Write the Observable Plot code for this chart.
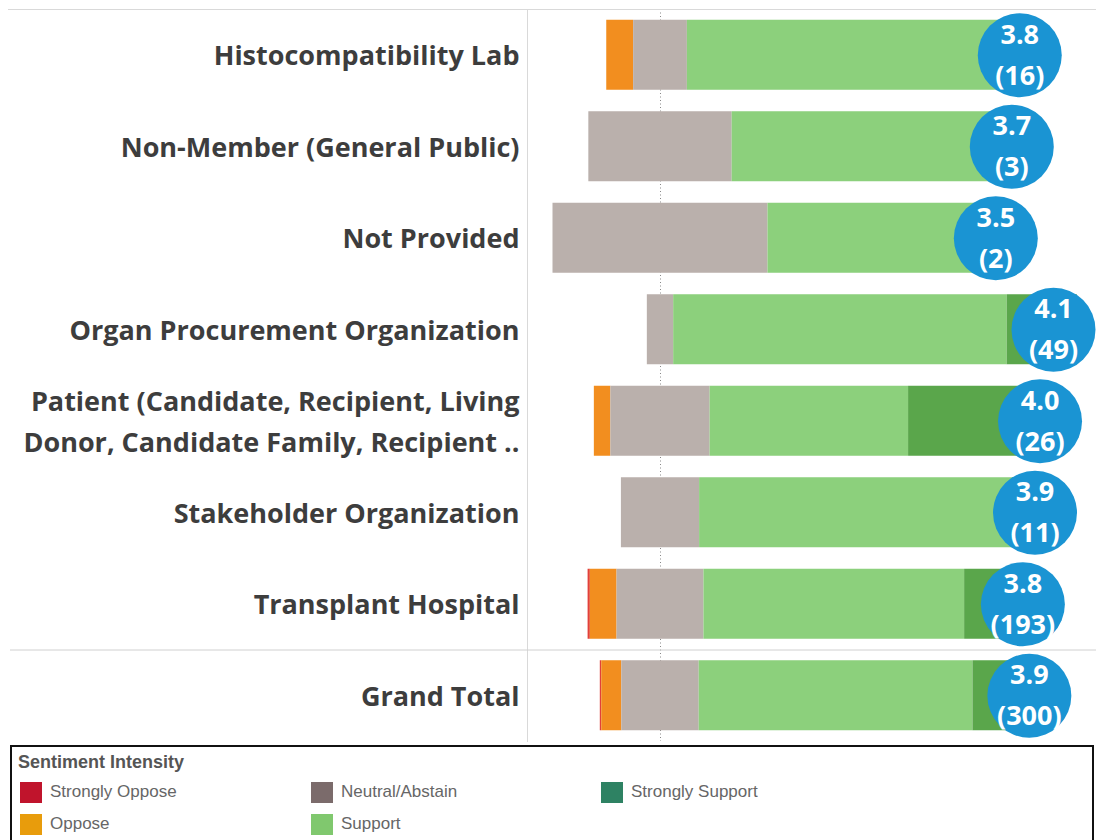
<!DOCTYPE html>
<html><head><meta charset="utf-8">
<script src="https://cdn.jsdelivr.net/npm/d3@7"></script>
<script src="https://cdn.jsdelivr.net/npm/@observablehq/plot@0.6"></script>
<style>
body{margin:0;background:#fff;width:1096px;height:840px;overflow:hidden;position:relative;}
#chart svg{display:block;}
#legend{position:absolute;left:10px;top:745px;width:1084px;height:110px;border:2px solid #111;box-sizing:border-box;font-family:"Liberation Sans",Arial,sans-serif;background:#fff;}
#legend .title{position:absolute;left:6px;top:5px;font-size:18px;font-weight:bold;color:#555;}
#legend .item{position:absolute;height:22px;display:flex;align-items:center;font-size:17px;color:#666;white-space:nowrap;}
#legend .sw{width:22px;height:21px;margin-right:8px;display:inline-block;}
</style>
</head><body>
<div id="chart"></div>
<div id="legend"></div>
<script>
const categories = ["Histocompatibility Lab","Non-Member (General Public)","Not Provided","Organ Procurement Organization","Patient (Candidate, Recipient, Living Donor, Candidate Family, Recipient ..","Stakeholder Organization","Transplant Hospital","Grand Total"];
const rowLabels = ["Histocompatibility Lab","Non-Member (General Public)","Not Provided","Organ Procurement Organization","Patient (Candidate, Recipient, Living\nDonor, Candidate Family, Recipient ..","Stakeholder Organization","Transplant Hospital","Grand Total"];
const stronglyOppose  = [0, 0, 0, 0, 0, 0, 1, 1];
const oppose          = [1, 0, 0, 0, 1, 0, 12, 14];
const neutral         = [2, 1, 1, 3, 6, 2, 39, 54];
const support         = [13, 2, 1, 38, 12, 8, 117, 191];
const stronglySupport = [0, 0, 0, 8, 7, 1, 24, 40];
const scoreLabels = ["3.8","3.7","3.5","4.1","4.0","3.9","3.8","3.9"];
const levels = ["Strongly Oppose","Oppose","Neutral/Abstain","Support","Strongly Support"];
const barColors = ["#e2403a","#f28e1f","#bab0ac","#8cd07c","#5aa64b"];
const legendColors = ["#c0142c","#e89c0c","#7b6b6b","#80c86e","#2e8263"];

const W = 1096, H = 745, ML = 527, MT = 9, MB = 4;
const CENTER = 660, PX_PER_PCT = 4.3, SCORE_UNIT = 22.28;
const xDomain = [-(CENTER - ML) / PX_PER_PCT, (W - CENTER) / PX_PER_PCT];

const counts = [stronglyOppose, oppose, neutral, support, stronglySupport];
const segments = [], summary = [];
categories.forEach((c, i) => {
  const n = counts.reduce((s, a) => s + a[i], 0);
  let x = -(stronglyOppose[i] + oppose[i] + neutral[i] / 2) / n * 100;
  counts.forEach((arr, k) => {
    const w = arr[i] / n * 100;
    if (w > 0) segments.push({category: c, level: levels[k], x1: x, x2: x + w});
    x += w;
  });
  const mean = counts.reduce((s, a, k) => s + a[i] * (k + 1), 0) / n;
  summary.push({category: c, n, mean, label: scoreLabels[i]});
});

const chart = Plot.plot({
  width: W, height: H, marginLeft: ML, marginRight: 0, marginTop: MT, marginBottom: MB,
  x: {domain: xDomain, axis: null},
  y: {domain: categories, paddingInner: 0.235, paddingOuter: 0.1175, round: false, axis: null},
  color: {domain: levels, range: barColors},
  style: {fontFamily: "'Open Sans', sans-serif", background: "white", overflow: "visible"},
  marks: [
    Plot.ruleX([0], {stroke: "#888", strokeDasharray: "1,2.5", strokeWidth: 1}),
    Plot.barX(segments, {y: "category", x1: "x1", x2: "x2", fill: "level"}),
    Plot.dot(summary, {y: "category", x: d => d.mean * SCORE_UNIT, r: 42, fill: "#1a94d3"}),
    Plot.text(summary, {y: "category", x: d => d.mean * SCORE_UNIT, dy: -4, text: d => `${d.label}\n(${d.n})`, fill: "white", fontSize: 27, fontWeight: "bold", lineHeight: 1.52}),
    Plot.text(categories, {y: d => d, frameAnchor: "left", dx: -8, dy: -3, textAnchor: "end", text: (d, i) => rowLabels[i], fontSize: 27, fontWeight: "bold", fill: "#3d3d3d", lineHeight: 1.52}),
    Plot.frame({anchor: "left", stroke: "#d9d9d9"})
  ]
});
document.getElementById("chart").appendChild(chart);

const step = (H - MT - MB) / categories.length;
const svg = d3.select(chart);
svg.append("line").attr("x1", 8).attr("x2", W).attr("y1", MT + 0.5).attr("y2", MT + 0.5).attr("stroke", "#d9d9d9");
svg.append("line").attr("x1", 10).attr("x2", W).attr("y1", MT + 7 * step + 0.5).attr("y2", MT + 7 * step + 0.5).attr("stroke", "#d0d0d0");

const legend = d3.select("#legend");
legend.append("div").attr("class", "title").text("Sentiment Intensity");
const legendPos = [[8, 34], [8, 66], [299, 34], [299, 66], [589, 34]];
levels.forEach((lv, k) => {
  const it = legend.append("div").attr("class", "item").style("left", legendPos[k][0] + "px").style("top", legendPos[k][1] + "px");
  it.append("span").attr("class", "sw").style("background", legendColors[k]);
  it.append("span").text(lv);
});
</script>
</body></html>
